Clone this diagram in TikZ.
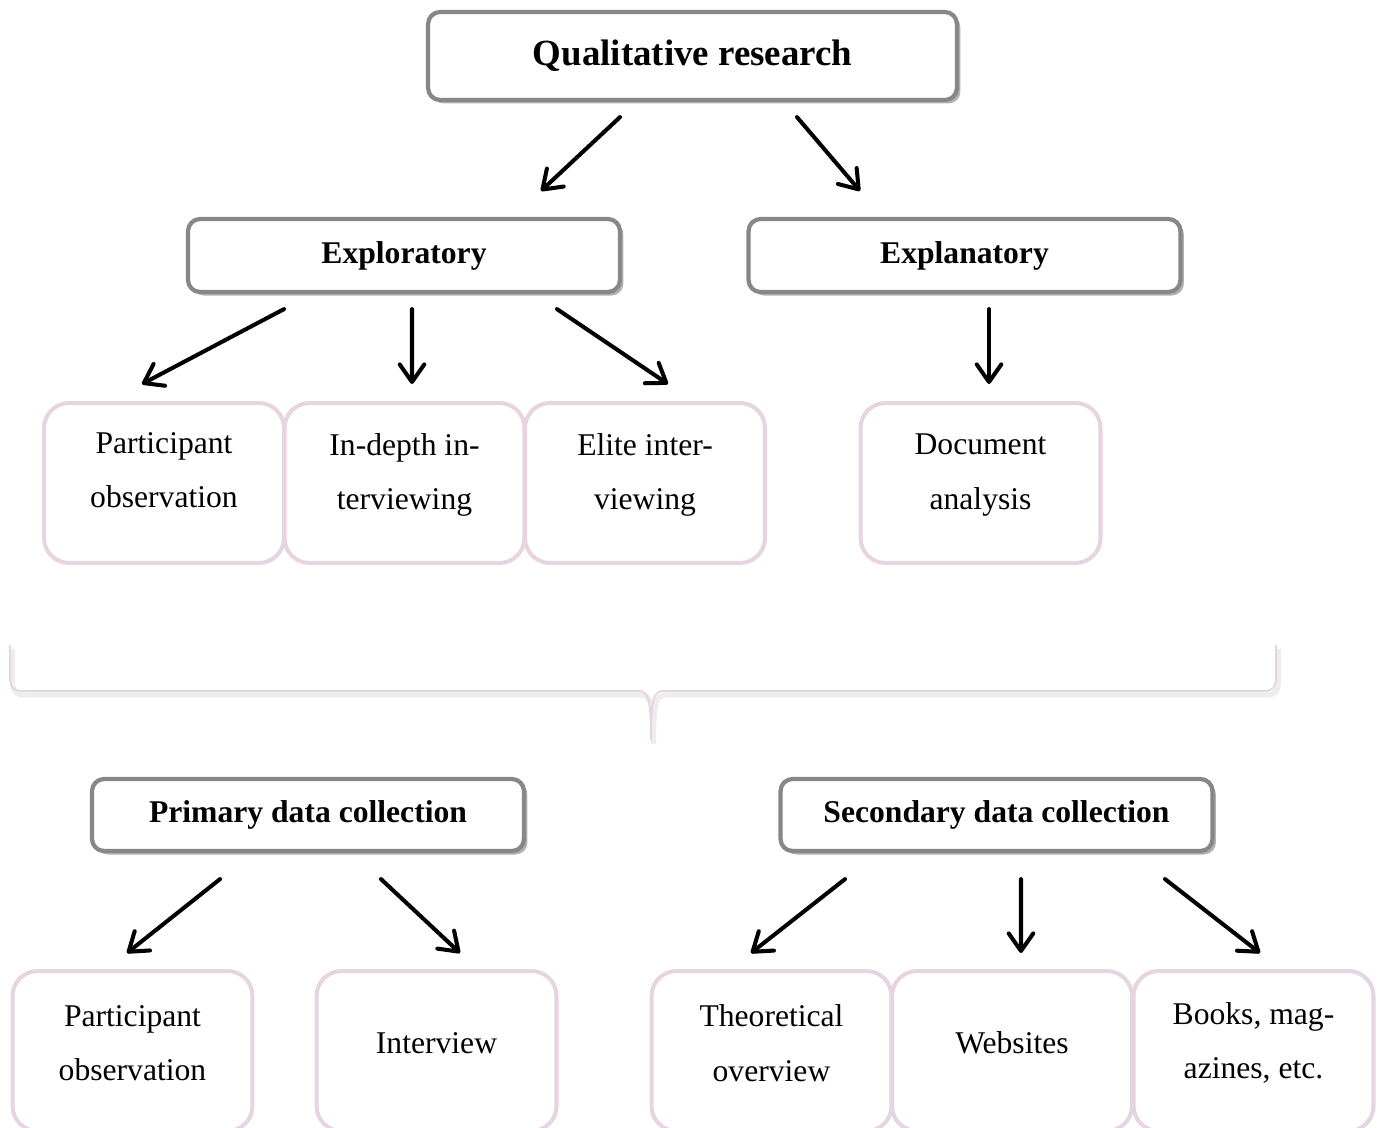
\documentclass[tikz,border=0pt]{standalone}
\usepackage{fontspec}
\setmainfont{Liberation Serif}
\usetikzlibrary{arrows.meta,shadows}

\definecolor{boxgray}{RGB}{135,135,135}
\definecolor{leafpink}{RGB}{230,212,225}

\tikzset{
  headbox/.style={draw=boxgray, line width=2.4pt, rounded corners=0.24cm, fill=white,
    drop shadow={shadow xshift=0.07cm, shadow yshift=-0.07cm, fill=black, opacity=.3},
    minimum width=8.64cm, minimum height=1.46cm, inner sep=0pt,
    font=\fontsize{18}{22}\selectfont\bfseries},
  leafbox/.style={draw=leafpink, line width=2.3pt, rounded corners=0.5cm, fill=white,
    minimum width=4.8cm, minimum height=3.2cm, inner sep=0pt},
  leaftext/.style={align=center, font=\fontsize{18}{31}\selectfont, yshift=0.16cm},
  arr/.style={line width=2.3pt, line cap=round,
    -{Straight Barb[length=10pt, width=14pt, line cap=round, line join=round]}}
}

\begin{document}
\begin{tikzpicture}[x=0.02cm, y=-0.02cm]

    % Page frame (pixels)
    \useasboundingbox (0,0) rectangle (1380,1127);
    \clip (0,0) rectangle (1380,1127);

    % Top of the tree
    \node[headbox, minimum width=10.58cm, minimum height=1.76cm,
          font=\fontsize{21}{25}\selectfont\bfseries] (qual) at (692.5,56) {Qualitative research};

    \node[headbox] (explor) at (404,255.5) {Exploratory};
    \node[headbox] (explan) at (964.5,255.5) {Explanatory};

    \draw[arr] ([shift={(-72.5,15)}]qual.south) -- ([shift={(137,-26)}]explor.north);
    \draw[arr] ([shift={(104.5,15)}]qual.south) -- ([shift={(-104.5,-26)}]explan.north);

    % Methods
    \node[leafbox, label={[leaftext, yshift=0.1cm]center:Participant\\observation}] (partobs) at (164,483) {};
    \node[leafbox, label={[leaftext]center:In-depth in-\\terviewing}] (indepth) at (404.5,483) {};
    \node[leafbox, label={[leaftext]center:Elite inter-\\viewing}] (elite) at (645,483) {};
    \node[leafbox, label={[leaftext]center:Document\\analysis}] (docan) at (980.5,483) {};

    \draw[arr] ([shift={(-120,15)}]explor.south) -- ([shift={(-22,-17)}]partobs.north);
    \draw[arr] ([shift={(8,15)}]explor.south) -- ([shift={(7.5,-17)}]indepth.north);
    \draw[arr] ([shift={(153,15)}]explor.south) -- ([shift={(23,-17)}]elite.north);
    \draw[arr] ([shift={(24.5,15)}]explan.south) -- ([shift={(8.5,-17)}]docan.north);

    % Brace
    \draw[leafpink, line width=1.1pt,
          preaction={draw=black!7, line width=3pt, transform canvas={shift={(0.05cm,-0.08cm)}}}]
      (10,645) -- (10,676) .. controls (10,687) and (13,691) .. (22,691)
      -- (638,691) .. controls (648,691) and (651,697) .. (651,740)
      .. controls (651,697) and (654,691) .. (664,691)
      -- (1264,691) .. controls (1273,691) and (1276,687) .. (1276,676) -- (1276,645);

    % Data collection
    \node[headbox, minimum height=1.44cm] (prim) at (308,815) {Primary data collection};
    \node[headbox, minimum height=1.44cm] (sec) at (996.5,815) {Secondary data collection};

    \node[leafbox, label={[leaftext]center:Participant\\observation}] (partobsb) at (132.5,1051) {};
    \node[leafbox, label={[leaftext]center:Interview}] (intv) at (436.5,1051) {};
    \node[leafbox, label={[leaftext]center:Theoretical\\overview}] (theo) at (771.5,1051) {};
    \node[leafbox, label={[leaftext]center:Websites}] (webs) at (1012,1051) {};
    \node[leafbox, label={[leaftext]center:Books, mag-\\azines, etc.}] (books) at (1253.5,1051) {};

    \draw[arr] ([shift={(-88,26)}]prim.south) -- ([shift={(-5.5,-16)}]partobsb.north);
    \draw[arr] ([shift={(73,26)}]prim.south) -- ([shift={(23.5,-16)}]intv.north);
    \draw[arr] ([shift={(-151.5,26)}]sec.south) -- ([shift={(-20.5,-16)}]theo.north);
    \draw[arr] ([shift={(24.5,26)}]sec.south) -- ([shift={(9,-16)}]webs.north);
    \draw[arr] ([shift={(168.5,26)}]sec.south) -- ([shift={(6.5,-16)}]books.north);

\end{tikzpicture}
\end{document}
